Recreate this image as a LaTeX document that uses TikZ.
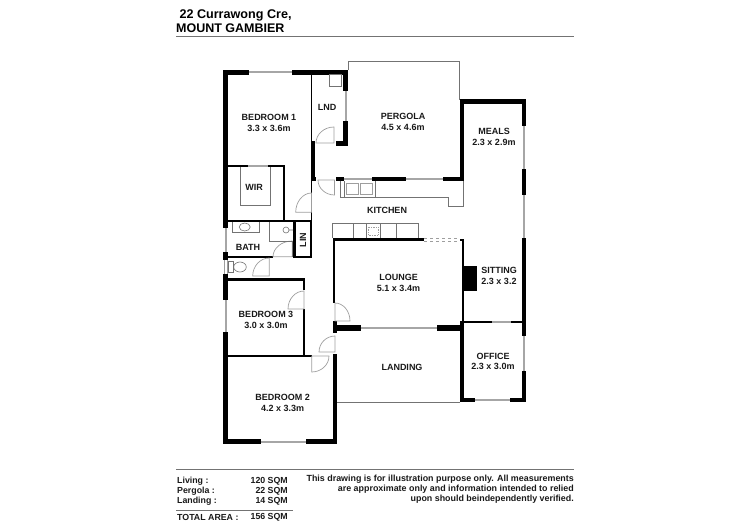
\documentclass[tikz,border=0pt]{standalone}
\usepackage{fontspec}
\setmainfont{Liberation Sans}
\usetikzlibrary{calc}

\tikzset{
  wall/.style={fill=black},
  glazing/.style={draw=black!35,line width=2pt},
  thinline/.style={draw=black!55,line width=.6pt},
  fixture/.style={draw=black!38,line width=.7pt},
  rule/.style={draw=black!55,line width=.8pt},
  room/.style={font=\bfseries\fontsize{9}{10.4}\selectfont,align=center,inner sep=0pt,text=black!90},
  small/.style={font=\bfseries\fontsize{8.8}{10}\selectfont,inner sep=0pt,text=black!90},
}

\begin{document}
\begin{tikzpicture}[x={(1pt,0)},y={(0,-1pt)}]
  \useasboundingbox (0,0) rectangle (750,531);
  % Pergola outline and landing edge
  \draw[thinline] (348,70)--(348,61.7)--(459.5,61.7)--(459.5,100);
  \draw[thinline] (337,402.7)--(460,402.7);
  % Windows
  \foreach \xa/\ya/\xb/\yb in {249/72.3/292/72.3, 225.7/228/225.7/252, 225.7/300/225.7/332,
    346/91/346/121, 248/166/268/166, 344/178.5/372/178.5, 406/178.5/443/178.5,
    523.7/126/523.7/169, 523.7/195/523.7/238, 523.7/336/523.7/371, 360/327.5/437/327.5,
    491/322/511/322, 475/400/510/400, 261/441.7/306/441.7}
    \draw[glazing] (\xa,\ya)--(\xb,\yb);
  % Walls
  \foreach \xa/\ya/\xb/\yb in {223.3/70/228/228, 223.3/252/228/260, 223.3/274/228/300, 223.3/332/228/444,
    223.3/70/249/75, 292/70/348/75, 343/70/348/91, 343/121/348/146, 336/141/348/146,
    310.7/72/312.3/141, 311/141/315.3/180, 311/176.7/316/180.7, 311/180/312/193, 310.5/212/312/222,
    336/176.7/344/180.7, 372/176.7/406/180.7, 443/176.7/464/180.7,
    459.5/99.3/464/181, 459.5/99.3/525.7/104, 521.7/99.3/525.7/126, 521.7/169/525.7/195, 521.7/238/525.7/336, 521.7/371/525.7/402.3,
    228/165/248/167.3, 268/165/285.3/167.3, 282.7/165/285.3/221, 228/220.4/311.7/222,
    293/222/296/257, 310/222/311.7/257, 228/256/273/257.5, 293/256/311.7/257.5,
    228/278.3/305.3/280.7, 302.7/278.3/305.3/290, 302.7/309/305.3/357, 228/355/312/357.3,
    332.7/238.3/424/241, 332.7/238.3/335.3/303, 332.7/321/337.3/333, 333/325/360.7/331, 437/325/464/331,
    333/353.7/337.3/444, 460/239.3/464/241, 461.7/239.3/464/325, 463.3/266/477/291,
    460/321/464.3/402.3, 464/321/491.7/323.3, 511/321/522/323.3, 460/397.7/475/402.3, 510/397.7/526/402.3,
    223.3/439.3/261/444, 306/439.3/337.3/444}
    \fill[wall] (\xa,\ya) rectangle (\xb,\yb);
  % Doors: free end of the swing, hinge, end of the leaf
  \foreach \ax/\ay/\hx/\hy/\bx/\by in {316/143/334/143/334/127, 318/180/334.5/180/334.5/195, 295.7/212.3/311.5/212.3/311.5/193,
    273/256.7/292.3/256.7/292.3/241, 252.7/276/269.3/276/269.3/258, 288/309/304/309/304/291,
    335/303/335/321/350/321, 319/352/335/352/335/336, 311.7/372/311.7/356/329/356}
    \draw[fixture] (\ax,\ay) .. controls (\ax+.55*\bx-.55*\hx,\ay+.55*\by-.55*\hy) and (\bx+.55*\ax-.55*\hx,\by+.55*\ay-.55*\hy) .. (\bx,\by)--(\hx,\hy)--cycle;
  % Double glass of the toilet window and the sliding door
  \draw[fixture] (224.5,260)--(224.5,274) (227,260)--(227,274);
  \draw[fixture,dashed] (424,238.5)--(460,238.5) (424,241)--(460,241);
  % Laundry trough
  \draw[black!55,line width=.9pt] (329.3,74.7) rectangle (341.7,86.7);
  % Kitchen benches
  \draw[thinline] (340,180.7)--(340,197) (344,180.7)--(344,197) (375,180.7)--(375,197)
    (340,197)--(448,197)--(448,206)--(463,206)--(463,181);
  \draw[fixture] (346,183) rectangle (358,194) (360,183) rectangle (372,194);
  \draw[thinline] (332.7,238.3)--(332.7,223.3)--(418.3,223.3)--(418.3,238.3);
  \foreach \x in {353.3,366,380,396.7} \draw[thinline] (\x,223.3)--(\x,238.3);
  \draw[fixture,densely dotted] (368,227) rectangle (378,235);
  % Walk in robe
  \draw[thinline] (240,167.3)--(240,205.7)--(270.7,205.7)--(270.7,167.3);
  % Bathroom
  \draw[thinline] (232.3,222)--(232.3,232.7)--(259.3,232.7)--(259.3,222);
  \draw[thinline] (244.7,227) ellipse (5.5 and 4);
  \draw[thinline] (269.3,222)--(269.3,241)--(292.3,241)--(292.3,257);
  \draw[thinline] (286,230) circle (3) (289,230)--(293,230);
  % Toilet
  \draw[thinline] (228.3,261.7) rectangle (233.5,272.3);
  \draw[thinline] (240,267) ellipse (6.3 and 5);
  % Room names
  \node[room] (bedroom1) at (269,122.8) {BEDROOM 1\\3.3 x 3.6m};
  \node[room] (lnd) at (327,107.5) {LND};
  \node[room] (wir) at (254,187) {WIR};
  \node[room] (pergola) at (403,122) {PERGOLA\\4.5 x 4.6m};
  \node[room] (meals) at (494,137) {MEALS\\2.3 x 2.9m};
  \node[room] (kitchen) at (387,210) {KITCHEN};
  \node[room] (lounge) at (398.5,283) {LOUNGE\\5.1 x 3.4m};
  \node[room] (sitting) at (499,276) {SITTING\\2.3 x 3.2};
  \node[room] (bath) at (248,247.5) {BATH};
  \node[room,rotate=90] (lin) at (303,240) {LIN};
  \node[room] (bedroom3) at (266,320) {BEDROOM 3\\3.0 x 3.0m};
  \node[room] (bedroom2) at (282.7,403) {BEDROOM 2\\4.2 x 3.3m};
  \node[room] (landing) at (402,367) {LANDING};
  \node[room] (office) at (493,361.5) {OFFICE\\2.3 x 3.0m};
  % Heading
  \node[inner sep=0pt,anchor=west,font=\bfseries\fontsize{12.6}{12.6}\selectfont] (street) at (179.3,15) {22 Currawong Cre,};
  \node[inner sep=0pt,anchor=west,font=\bfseries\fontsize{12.5}{12.5}\selectfont] (town) at (176,28.5) {MOUNT GAMBIER};
  \draw[rule] (176,36)--(574,36);
  % Areas
  \draw[rule] (176,469)--(574,469);
  \draw[rule] (176,510.7)--(293,510.7);
  \foreach \nm/\ar/\val/\y in {living/Living :/120 SQM/481.3, pergolaarea/Pergola :/22 SQM/491.3, landingarea/Landing :/14 SQM/501.3, total/TOTAL AREA :/156 SQM/517} {
    \node[small,anchor=west] (\nm) at (177,\y) {\ar};
    \node[small,anchor=east] (\nm val) at (288,\y) {\val};
  }
  \node[small,anchor=north east,align=right,font=\bfseries\fontsize{8.9}{10}\selectfont] (note) at (574,474.5) {This drawing is for illustration purpose only. All measurements\\are approximate only and information intended to relied\\upon should beindependently verified.};
\end{tikzpicture}
\end{document}
